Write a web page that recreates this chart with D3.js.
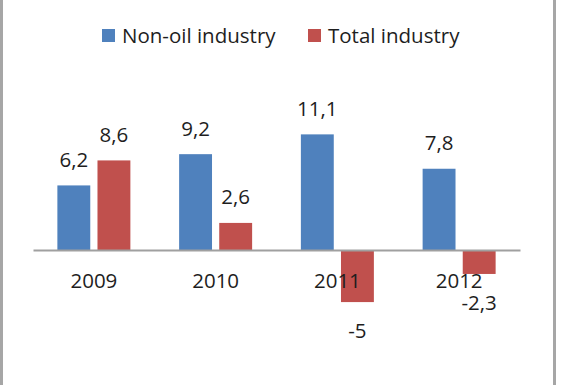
<!DOCTYPE html>
<html>
<head>
<meta charset="utf-8">
<script src="https://cdn.jsdelivr.net/npm/d3@7"></script>
<style>
  body { margin: 0; background: #fff; }
  text { font-family: "Open Sans", sans-serif; font-size: 20.5px; fill: #1e1e1e; }
</style>
</head>
<body>
<div id="chart"></div>
<script>
var years = ["2009", "2010", "2011", "2012"];
var seriesNames = ["Non-oil industry", "Total industry"];
var nonOil = [6.2, 9.2, 11.1, 7.8];
var total = [8.6, 2.6, -5, -2.3];
var colors = ["#4f81bd", "#c0504d"];

var width = 563;
var height = 385;

var svg = d3.select("#chart")
  .append("svg")
  .attr("width", width)
  .attr("height", height);

// frame edges
svg.append("rect").attr("x", 0).attr("y", 0).attr("width", 3).attr("height", height).attr("fill", "#a6a6a6");
svg.append("rect").attr("x", 553).attr("y", 0).attr("width", 3).attr("height", height).attr("fill", "#a6a6a6");

var data = [];
years.forEach(function (y, i) {
  data.push({ year: y, series: seriesNames[0], value: nonOil[i] });
  data.push({ year: y, series: seriesNames[1], value: total[i] });
});

var x = d3.scaleBand()
  .domain(years)
  .range([33, 520]);

var groupW = 73;
var xs = d3.scaleBand()
  .domain(seriesNames)
  .range([(x.bandwidth() - groupW) / 2, (x.bandwidth() + groupW) / 2])
  .paddingInner(0.18);

var y = d3.scaleLinear()
  .domain([-6, 12])
  .range([312.5, 125]);

var color = d3.scaleOrdinal().domain(seriesNames).range(colors);

svg.selectAll("rect.bar")
  .data(data)
  .enter()
  .append("rect")
  .attr("class", "bar")
  .attr("x", function (d) { return x(d.year) + xs(d.series); })
  .attr("y", function (d) { return y(Math.max(0, d.value)); })
  .attr("width", xs.bandwidth())
  .attr("height", function (d) { return Math.abs(y(d.value) - y(0)); })
  .attr("fill", function (d) { return color(d.series); });

// axis at zero
var axis = svg.append("g")
  .attr("transform", "translate(0," + y(0) + ")")
  .call(d3.axisBottom(x).tickSize(0).tickPadding(0));
axis.select(".domain").attr("stroke", "#a0a0a0").attr("stroke-width", 2);
axis.selectAll("text")
  .attr("y", 38 + y(-0) - y(0))
  .attr("dy", null)
  .style("font-family", "'Open Sans', sans-serif")
  .style("font-size", "20.5px")
  .attr("fill", "#1e1e1e");

// data labels
svg.selectAll("text.lbl")
  .data(data)
  .enter()
  .append("text")
  .attr("class", "lbl")
  .attr("text-anchor", "middle")
  .attr("x", function (d) { return x(d.year) + xs(d.series) + xs.bandwidth() / 2; })
  .attr("y", function (d) { return d.value >= 0 ? y(d.value) - 18.5 : y(d.value) + 36; })
  .text(function (d) { return String(d.value).replace(".", ","); });

// legend
var legendX = [102, 308];
var lg = svg.selectAll("g.leg")
  .data(seriesNames)
  .enter()
  .append("g")
  .attr("class", "leg")
  .attr("transform", function (d, i) { return "translate(" + legendX[i] + ",29)"; });
lg.append("rect")
  .attr("width", 13)
  .attr("height", 13)
  .attr("fill", function (d) { return color(d); });
lg.append("text")
  .attr("x", 20)
  .attr("y", 14)
  .text(function (d) { return d; });
</script>
</body>
</html>
